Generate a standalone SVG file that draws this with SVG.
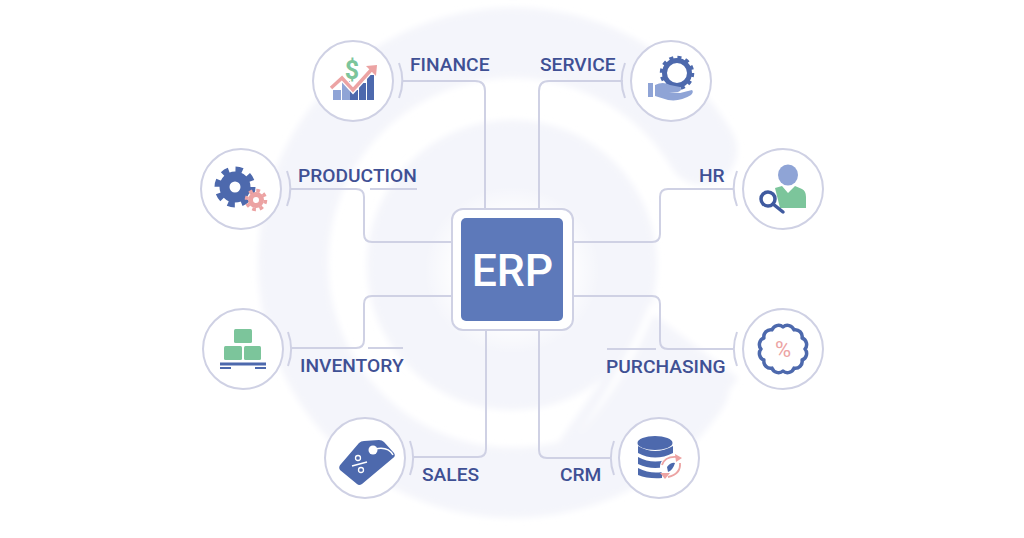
<svg xmlns="http://www.w3.org/2000/svg" width="1024" height="538" viewBox="0 0 1024 538">
<style>
.lbl{font-family:Roboto,"Liberation Sans",sans-serif;font-weight:500;font-size:19.2px;fill:#3f5094}
.ring{fill:#fff;stroke:#cfd1e4;stroke-width:2}
.line{fill:none;stroke:#cfd1e4;stroke-width:2}
.dark{fill:#4d69ad}
.light{fill:#8fa4d6}
.green{fill:#7cc59b}
.salmon{fill:#eca3a3}
</style>
<defs>
<radialGradient id="glow" cx="0.5" cy="0.5" r="0.5"><stop offset="0.6" stop-color="#fff"/><stop offset="1" stop-color="#fff" stop-opacity="0"/></radialGradient>
<filter id="soft" filterUnits="userSpaceOnUse" x="0" y="0" width="1024" height="538"><feGaussianBlur stdDeviation="3"/></filter>
</defs>
<rect width="1024" height="538" fill="#fff"/>
<g id="background">
<g filter="url(#soft)">
<path d="M702 150A220 220 0 1 0 694 388" fill="none" stroke="#f4f5fb" stroke-width="70" stroke-linecap="round"/>
<circle cx="512" cy="265" r="145" fill="#f4f5fb"/>
<path d="M650 312L738 378L700 430L610 490L560 440Z" fill="#f4f5fb"/>
<path d="M612 250L658 305L640 340L600 340Z" fill="#f4f5fb"/>
<path d="M658 303Q630 378 578 434Q622 372 650 303Z" fill="#fff"/>
</g>
<ellipse cx="512" cy="270" rx="88" ry="84" fill="url(#glow)"/>
</g>
<g id="connectors">
<path class="line" d="M403 81H475Q485 81 485 91V209"/>
<path class="line" d="M623 81H549Q539 81 539 91V209"/>
<path class="line" d="M291 189H356Q364 189 364 197V234Q364 242 372 242H452"/>
<path class="line" d="M370 189H417"/>
<path class="line" d="M733 189H668Q660 189 660 197V234Q660 242 652 242H573"/>
<path class="line" d="M292 348H356Q364 348 364 340V304Q364 296 372 296H452"/>
<path class="line" d="M368 348H403"/>
<path class="line" d="M733 349H668Q660 349 660 341V304Q660 296 652 296H573"/>
<path class="line" d="M607 349H656"/>
<path class="line" d="M414 457H478Q486 457 486 449V329"/>
<path class="line" d="M611 458H547Q539 458 539 450V329"/>
</g>
<g id="erp">
<rect x="452" y="209" width="121" height="121" rx="11" class="ring"/>
<rect x="461" y="218" width="102" height="103" rx="5" fill="#5d79ba"/>
<text x="512.500" y="286" text-anchor="middle" font-family="Roboto,'Liberation Sans',sans-serif" font-weight="500" font-size="44.500" fill="#fff">ERP</text>
</g>
<g id="finance">
<circle cx="353" cy="81" r="40" class="ring"/>
<path class="line" d="M399 63A49 49 0 0 1 399 98"/>
<rect x="333" y="90" width="8" height="10" class="light"/>
<rect x="342" y="81" width="8" height="19" class="light"/>
<rect x="350" y="90" width="8" height="10" class="dark"/>
<rect x="359" y="83" width="7" height="17" class="dark"/>
<rect x="367" y="75" width="7" height="25" class="dark"/>
<path d="M331 88L342 78L353 90L372 69" fill="none" stroke="#fff" stroke-width="6"/>
<path d="M331 88L342 78L353 90L372 69" fill="none" stroke="#eca3a3" stroke-width="3.500"/>
<path d="M366 66L377 65L376 76Z" class="salmon"/>
<text x="352" y="79" text-anchor="middle" font-family="Roboto,sans-serif" font-weight="700" font-size="25" class="green">$</text>
<text x="410" y="71" class="lbl">FINANCE</text>
</g>
<g id="service">
<circle cx="671" cy="81" r="40" class="ring"/>
<path class="line" d="M625 63A49 49 0 0 0 625 98"/>
<circle cx="677" cy="73" r="12.500" fill="#fff" stroke="#4d69ad" stroke-width="5"/>
<circle cx="677" cy="73" r="15.500" fill="none" stroke="#4d69ad" stroke-width="3.500" stroke-dasharray="4 4.110"/>
<rect x="648" y="83" width="5" height="14" class="light"/>
<path d="M655 85Q663 81 670 85L680 87Q683 90 678 92L669 92L680 93L692 90Q694 92 691 95Q680 102 668 100L655 96Z" class="light"/>
<text x="540" y="71" class="lbl">SERVICE</text>
</g>
<g id="production">
<circle cx="241" cy="189" r="40" class="ring"/>
<path class="line" d="M287 171A49 49 0 0 1 287 206"/>
<circle cx="235" cy="187" r="10.500" fill="none" stroke="#4d69ad" stroke-width="10"/>
<circle cx="235" cy="187" r="17.500" fill="none" stroke="#4d69ad" stroke-width="6" stroke-dasharray="7 6.740"/>
<circle cx="256" cy="200" r="5.500" fill="none" stroke="#eca3a3" stroke-width="5"/>
<circle cx="256" cy="200" r="9.500" fill="none" stroke="#eca3a3" stroke-width="3.500" stroke-dasharray="3.700 3.760"/>
<text x="298" y="182" class="lbl">PRODUCTION</text>
</g>
<g id="hr">
<circle cx="783" cy="189" r="40" class="ring"/>
<path class="line" d="M737 171A49 49 0 0 0 737 206"/>
<ellipse cx="788" cy="175" rx="10" ry="10.500" class="light"/>
<path d="M775 188L782 186L788 193L795 186L802 189Q806 191 806 197V208H780Z" class="green"/>
<circle cx="768" cy="199" r="7" fill="#fff" stroke="#3f5a9f" stroke-width="3.500"/>
<path d="M773 204L783 212" stroke="#3f5a9f" stroke-width="3.500" stroke-linecap="round"/>
<text x="699" y="182" class="lbl">HR</text>
</g>
<g id="inventory">
<circle cx="243" cy="349" r="40" class="ring"/>
<path class="line" d="M288 332A49 49 0 0 1 288 366"/>
<rect x="234" y="329" width="18" height="14" rx="1.500" class="green"/>
<rect x="224" y="346" width="18" height="14" rx="1.500" class="green"/>
<rect x="244" y="346" width="17" height="14" rx="1.500" class="green"/>
<rect x="220" y="362.500" width="46" height="3" class="dark"/>
<rect x="220" y="367" width="11" height="2" class="dark"/>
<rect x="255" y="367" width="11" height="2" class="dark"/>
<text x="300" y="372" class="lbl">INVENTORY</text>
</g>
<g id="purchasing">
<circle cx="783" cy="349" r="40" class="ring"/>
<path class="line" d="M737 332A49 49 0 0 0 737 366"/>
<path d="M805 349A7 7 0 0 1 802.100 360A7 7 0 0 1 794 368.100A7 7 0 0 1 783 371A7 7 0 0 1 772 368.100A7 7 0 0 1 763.900 360A7 7 0 0 1 761 349A7 7 0 0 1 763.900 338A7 7 0 0 1 772 329.900A7 7 0 0 1 783 327A7 7 0 0 1 794 329.900A7 7 0 0 1 802.100 338A7 7 0 0 1 805 349Z" fill="#fff" stroke="#4d69ad" stroke-width="3.500" stroke-linejoin="round"/>
<text x="783" y="357" text-anchor="middle" font-family="Roboto,sans-serif" font-size="22" class="salmon">%</text>
<text x="606" y="373" class="lbl">PURCHASING</text>
</g>
<g id="sales">
<circle cx="365" cy="458" r="40" class="ring"/>
<path class="line" d="M410 441A49 49 0 0 1 410 475"/>
<path d="M341 464L359 443Q361 441 364 441L379 440Q382 440 384 442L394 453Q396 456 393 458L362 484Q359 486 357 484L340 470Q338 467 341 464Z" class="dark"/>
<circle cx="373" cy="450" r="4.500" fill="#fff"/>
<path d="M375 449Q388 446 393 455" fill="none" stroke="#fff" stroke-width="1.500"/>
<circle cx="358" cy="458" r="2.500" fill="none" stroke="#fff" stroke-width="1.300"/>
<circle cx="361" cy="470" r="2.500" fill="none" stroke="#fff" stroke-width="1.300"/>
<path d="M352 466L367 462" stroke="#fff" stroke-width="1.300"/>
<text x="422" y="481" class="lbl">SALES</text>
</g>
<g id="crm">
<circle cx="659" cy="458" r="40" class="ring"/>
<path class="line" d="M614 441A49 49 0 0 0 614 475"/>
<ellipse cx="655" cy="443" rx="17.500" ry="7" class="dark"/>
<path d="M638 446Q655 456 673 446V453Q655 462 638 453Z" class="dark"/>
<path d="M638 457Q655 466 673 457V464Q655 472 638 464Z" class="dark"/>
<path d="M638 468Q650 474 662 472V478Q648 479 638 475Z" class="dark"/>
<circle cx="671" cy="467" r="11" fill="#fff"/>
<path d="M662 465Q665 456 677 457" fill="none" stroke="#eca3a3" stroke-width="1.800"/>
<path d="M680 463Q681 474 668 477" fill="none" stroke="#eca3a3" stroke-width="1.800"/>
<path d="M675 454L682 458L676 462Z" class="salmon"/>
<path d="M670 473L660 473L665 479Z" class="salmon"/>
<path d="M667 467Q671 462 675 463Q673 470 668 472Z" class="dark"/>
<text x="560" y="481" class="lbl">CRM</text>
</g>
</svg>
